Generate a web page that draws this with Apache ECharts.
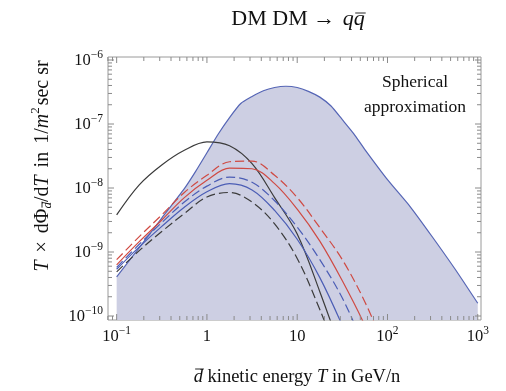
<!DOCTYPE html>
<html>
<head>
<meta charset="utf-8">
<script src="https://cdn.jsdelivr.net/npm/echarts@6/dist/echarts.min.js"></script>
<style>
html,body{margin:0;padding:0;background:#fff;}
#chart{width:506px;height:391px;}
</style>
</head>
<body>
<div id="chart"></div>
<script>
// Antideuteron kinetic energy grid (GeV/n) for the individual curves
const energy = [0.1, 0.178, 0.316, 0.562, 1, 1.78, 3.16, 5.62, 10, 17.8, 31.6, 56.2, 100, 178, 316, 562, 1000];
// Finer grid for the spherical-approximation band
const energyBand = [0.1, 0.178, 0.316, 0.562, 0.75, 1, 1.33, 1.78, 2.37, 3.16, 4.22, 5.62, 7.5, 10, 13.3, 17.8, 23.7, 31.6, 42.2, 56.2, 100, 178, 316, 562, 1000];

// T x dPhi/dT in 1/(m^2 sec sr)
const sphericalBand = [4.07e-10, 1.17e-9, 3.39e-9, 9.77e-9, 1.82e-8, 3.55e-8, 6.92e-8, 1.26e-7, 2.09e-7, 2.69e-7, 3.31e-7, 3.72e-7, 3.89e-7, 3.72e-7, 3.24e-7, 2.63e-7, 1.91e-7, 1.17e-7, 7.08e-8, 3.98e-8, 1.35e-8, 5.13e-9, 1.70e-9, 5.37e-10, 1.58e-10];
const blackSolid   = [3.80e-9, 1.12e-8, 2.29e-8, 3.89e-8, 5.25e-8, 4.57e-8, 2.40e-8, 7.08e-9, 1.91e-9, 2.40e-10, 2.51e-11, null, null, null, null, null, null];
const redDashed    = [7.59e-10, 1.74e-9, 3.80e-9, 8.51e-9, 1.58e-8, 2.57e-8, 2.63e-8, 1.58e-8, 7.08e-9, 2.40e-9, 7.59e-10, 1.66e-10, 2.51e-11, null, null, null, null];
const redSolid     = [6.31e-10, 1.45e-9, 3.16e-9, 7.08e-9, 1.32e-8, 2.04e-8, 2.00e-8, 1.17e-8, 4.68e-9, 1.48e-9, 3.55e-10, 7.08e-11, 1.0e-11, null, null, null, null];
const blueDashed   = [5.75e-10, 1.32e-9, 2.88e-9, 6.03e-9, 1.07e-8, 1.48e-8, 1.23e-8, 6.31e-9, 2.45e-9, 7.59e-10, 1.91e-10, 3.16e-11, null, null, null, null, null];
const blueSolid    = [5.37e-10, 1.20e-9, 2.51e-9, 5.01e-9, 8.71e-9, 1.17e-8, 9.33e-9, 4.47e-9, 1.58e-9, 3.98e-10, 7.08e-11, null, null, null, null, null, null];
const blackDashed  = [4.90e-10, 1.05e-9, 2.09e-9, 3.98e-9, 7.24e-9, 8.51e-9, 6.03e-9, 2.75e-9, 7.94e-10, 1.26e-10, 1.58e-11, null, null, null, null, null, null];

// Tick labels
const xLabelValues = [0.1, 1, 10, 100, 1000];
const xLabelBase   = ['10', '1', '10', '10', '10'];
const xLabelExp    = ['\u22121', '', '', '2', '3'];
const yLabelValues = [1e-10, 1e-9, 1e-8, 1e-7, 1e-6];
const yLabelBase   = ['10', '10', '10', '10', '10'];
const yLabelExp    = ['\u221210', '\u22129', '\u22128', '\u22127', '\u22126'];

// Frame extents (a little wider than the data range)
const X_MIN = 0.0802, X_MAX = 1086;
const Y_MIN = 8.66e-11, Y_MAX = 1.114e-6;

const SERIF = '"Liberation Serif","Times New Roman",serif';
const TICK = '#8a8a8a';
const RED = '#cf4a43';
const BLUE = '#4b5db5';
const DARK = '#3b3b3b';

const mctx = document.createElement('canvas').getContext('2d');
function fontOf(size, it) { return (it ? 'italic ' : '') + size + 'px ' + SERIF; }
function textWidth(t, size, it) { mctx.font = fontOf(size, it); return mctx.measureText(t).width; }

function textEl(t, x, y, size, it, color, align) {
  return {
    type: 'text', x: x, y: y,
    style: {
      text: t, font: fontOf(size, it), fill: color || '#111',
      align: align || 'left', verticalAlign: 'middle',
      textAlign: align || 'left', textVerticalAlign: 'middle'
    }
  };
}

// Lay out a row of styled pieces left to right starting at x = 0
function row(segs, color) {
  let x = 0;
  const kids = [];
  segs.forEach(s => {
    x += s.pre || 0;
    const w = textWidth(s.t, s.size, s.it);
    kids.push(textEl(s.t, x, s.dy || 0, s.size, s.it, color));
    if (s.over) {
      const ox = s.ox || 0;
      kids.push({ type: 'line', shape: { x1: x + ox + 0.5, y1: s.oy, x2: x + w + ox, y2: s.oy },
        style: { stroke: color || '#111', lineWidth: 0.9 } });
    }
    x += w + (s.post || 0);
  });
  return { kids, width: x };
}

function centered(segs, cx, cy, rotation, color) {
  const r = row(segs, color);
  r.kids.forEach(k => {
    if (k.type === 'text') k.x -= r.width / 2;
    else { k.shape.x1 -= r.width / 2; k.shape.x2 -= r.width / 2; }
  });
  return { type: 'group', x: cx, y: cy, rotation: rotation || 0, children: r.kids };
}

const titleSegs = [
  { t: 'DM DM ', size: 22 },
  { t: '\u2192', size: 22, post: 2 },
  { t: ' ', size: 22 },
  { t: 'q', size: 22, it: true },
  { t: 'q', size: 22, it: true, over: true, oy: -6, ox: 1 }
];
const xNameSegs = [
  { t: 'd', size: 18.5, it: true, over: true, oy: -8, ox: 1 },
  { t: ' kinetic energy ', size: 18.5 },
  { t: 'T', size: 18.5, it: true },
  { t: ' in GeV/n', size: 18.5 }
];
const yNameSegs = [
  { t: 'T', size: 20, it: true },
  { t: ' \u00d7 ', size: 20, pre: 3, post: 3 },
  { t: 'd\u03a6', size: 20 },
  { t: 'd', size: 13, it: true, dy: 5, over: true, oy: -1, ox: 0.5 },
  { t: '/d', size: 20 },
  { t: 'T', size: 20, it: true },
  { t: ' in ', size: 20, pre: 3, post: 3 },
  { t: '1/', size: 20 },
  { t: 'm', size: 20, it: true },
  { t: '2', size: 13, dy: -7, post: 2 },
  { t: 'sec sr', size: 20 }
];

// Tick marks drawn on all four sides of the frame
const xTicks = [];
[0.08, 0.09].forEach(v => xTicks.push([v, 1e-8, 0]));
[0.1, 1, 10, 100].forEach(d => {
  for (let m = 1; m <= 9; m++) xTicks.push([d * m, 1e-8, m === 1 ? 1 : 0]);
});
xTicks.push([1000, 1e-8, 1]);
const yTicks = [[9e-11, 1, 0]];
[1e-10, 1e-9, 1e-8, 1e-7].forEach(d => {
  for (let m = 1; m <= 9; m++) yTicks.push([1, d * m, m === 1 ? 1 : 0]);
});
yTicks.push([1, 1e-6, 1]);

function line(x1, y1, x2, y2) {
  return { type: 'line', shape: { x1, y1, x2, y2 }, style: { stroke: TICK, lineWidth: 1 } };
}

const chart = echarts.init(document.getElementById('chart'), null, { renderer: 'canvas' });

function curve(name, data, color, dashed) {
  return {
    name, type: 'line', data: energy.map((e, i) => [e, data[i]]),
    showSymbol: false, smooth: 0.35, connectNulls: false, clip: true,
    lineStyle: { color, width: 1.2, type: dashed ? [9, 4] : 'solid' },
    z: 3
  };
}

chart.setOption({
  animation: false,
  backgroundColor: '#fff',
  grid: { left: 108, right: 25, top: 57, bottom: 71, show: true, borderColor: '#9a9a9a', borderWidth: 1, backgroundColor: 'transparent' },
  xAxis: { type: 'log', logBase: 10, min: X_MIN, max: X_MAX, axisLine: { show: false }, axisTick: { show: false }, axisLabel: { show: false }, splitLine: { show: false } },
  yAxis: { type: 'log', logBase: 10, min: Y_MIN, max: Y_MAX, axisLine: { show: false }, axisTick: { show: false }, axisLabel: { show: false }, splitLine: { show: false } },
  graphic: [
    centered(titleSegs, 298, 19, 0, '#111'),
    centered(xNameSegs, 297, 377, 0, '#111'),
    centered(yNameSegs, 43, 166, Math.PI / 2, '#111'),
    { type: 'group', children: [
      textEl('Spherical', 415, 82, 17.5, false, '#111', 'center'),
      textEl('approximation', 415, 107, 17.5, false, '#111', 'center')
    ] }
  ],
  series: [
    {
      name: 'Spherical approximation', type: 'line',
      data: energyBand.map((e, i) => [e, sphericalBand[i]]),
      showSymbol: false, smooth: 0.2, clip: true,
      lineStyle: { color: '#5565b5', width: 1.2 },
      areaStyle: { color: '#cdcfe3', opacity: 1, origin: 'start' },
      z: 2
    },
    curve('black', blackSolid, DARK, false),
    curve('black dashed', blackDashed, DARK, true),
    curve('blue', blueSolid, BLUE, false),
    curve('blue dashed', blueDashed, BLUE, true),
    curve('red', redSolid, RED, false),
    curve('red dashed', redDashed, RED, true),
    {
      name: 'xticks', type: 'custom', data: xTicks, z: 5, silent: true,
      renderItem(params, api) {
        const cs = params.coordSys;
        const px = api.coord([api.value(0), 1e-8])[0];
        const len = api.value(2) ? 6 : 4;
        const b = cs.y + cs.height, t = cs.y;
        return { type: 'group', children: [line(px, b, px, b - len), line(px, t, px, t + len)] };
      }
    },
    {
      name: 'yticks', type: 'custom', data: yTicks, z: 5, silent: true,
      renderItem(params, api) {
        const cs = params.coordSys;
        const py = api.coord([1, api.value(1)])[1];
        const len = api.value(2) ? 6 : 4;
        const l = cs.x, r = cs.x + cs.width;
        return { type: 'group', children: [line(l, py, l + len, py), line(r, py, r - len, py)] };
      }
    },
    {
      name: 'xlabels', type: 'custom', z: 5, silent: true,
      data: xLabelValues.map((v, i) => [v, 1e-8, i]),
      renderItem(params, api) {
        const cs = params.coordSys;
        const i = api.value(2);
        const px = api.coord([api.value(0), 1e-8])[0];
        const base = xLabelBase[i], ex = xLabelExp[i];
        const wb = textWidth(base, 16.5), we = ex ? textWidth(ex, 11.5) : 0;
        const x0 = px - (wb + we) / 2;
        const y = cs.y + cs.height + 17;
        const kids = [textEl(base, x0, y, 16.5, false, '#111')];
        if (ex) kids.push(textEl(ex, x0 + wb, y - 6, 11.5, false, '#111'));
        return { type: 'group', children: kids };
      }
    },
    {
      name: 'ylabels', type: 'custom', z: 5, silent: true,
      data: yLabelValues.map((v, i) => [1, v, i]),
      renderItem(params, api) {
        const cs = params.coordSys;
        const i = api.value(2);
        const py = api.coord([1, api.value(1)])[1];
        const base = yLabelBase[i], ex = yLabelExp[i];
        const wb = textWidth(base, 16.5), we = textWidth(ex, 11.5);
        const xr = cs.x - 5;
        return { type: 'group', children: [
          textEl(base, xr - we - wb, py + 1, 16.5, false, '#111'),
          textEl(ex, xr - we, py - 5, 11.5, false, '#111')
        ] };
      }
    }
  ]
});
</script>
</body>
</html>
